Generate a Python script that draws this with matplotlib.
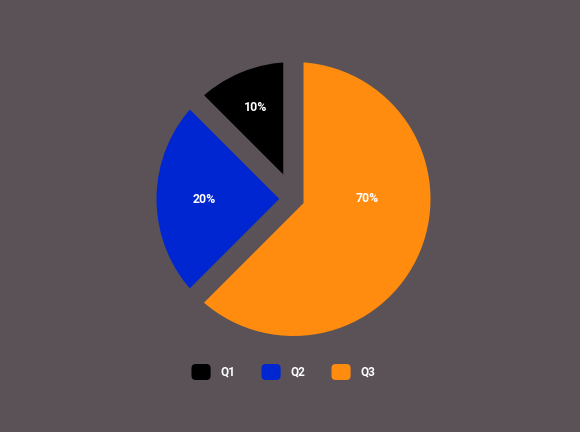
import numpy as np
import matplotlib
matplotlib.use('Agg')
import matplotlib.pyplot as plt
from matplotlib.patches import FancyBboxPatch, Patch
from matplotlib.legend_handler import HandlerPatch

# Chart data
categories = ['Q1', 'Q2', 'Q3']
shares = [12.5, 25.0, 62.5]          # slice sizes as drawn
label_texts = ['10%', '20%', '70%']  # texts printed on the slices
colors = ['#000000', '#0026D2', '#FF8C0E']

# Style
BG = '#5A5257'
DPI = 100
WIDTH = 580.0
HEIGHT = 432.0
FONT = 'Roboto'
GAP_PX = 20.0
RADIUS_PX = 147.0
CENTER_PX = (293.5, 199.0)           # from top-left
label_dist = [0.675, 0.61, 0.5]
label_angle = [None, None, 0.0]


def rounded_box(legend, orig_handle, xdescent, ydescent, width, height, fontsize):
    return FancyBboxPatch((-xdescent, -ydescent), width, height,
                          boxstyle='round,pad=0,rounding_size=3')


fig = plt.figure(figsize=(WIDTH / DPI, HEIGHT / DPI), dpi=DPI, facecolor=BG)

cx, cy = CENTER_PX
ax = fig.add_axes([(cx - RADIUS_PX) / WIDTH, (HEIGHT - cy - RADIUS_PX) / HEIGHT,
                   2 * RADIUS_PX / WIDTH, 2 * RADIUS_PX / HEIGHT])
ax.set_facecolor(BG)

wedges, _ = ax.pie(shares, colors=colors, startangle=90, counterclock=True,
                   wedgeprops=dict(linewidth=GAP_PX * 72 / DPI, edgecolor=BG,
                                   joinstyle='miter'))
ax.set_xlim(-1, 1)
ax.set_ylim(-1, 1)
ax.axis('off')

for w, txt, dist, ang in zip(wedges, label_texts, label_dist, label_angle):
    if ang is None:
        ang = (w.theta1 + w.theta2) / 2
    a = np.deg2rad(ang)
    ax.text(dist * np.cos(a), dist * np.sin(a), txt, ha='center', va='center',
            color='white', fontsize=8.8, fontweight='bold', family=FONT)

handles = [Patch(facecolor=c, edgecolor='none') for c in colors]
leg = fig.legend(handles, categories, loc='center', ncol=3,
                 bbox_to_anchor=(283.5 / WIDTH, 1 - 372 / HEIGHT),
                 frameon=False, borderpad=0, handlelength=1.62, handleheight=1.7,
                 handletextpad=0.85, columnspacing=2.2,
                 handler_map={Patch: HandlerPatch(patch_func=rounded_box)},
                 prop=dict(family=FONT, weight='bold', size=8.5))
for t in leg.get_texts():
    t.set_color('white')

plt.savefig('out.png', dpi=DPI, facecolor=BG)
